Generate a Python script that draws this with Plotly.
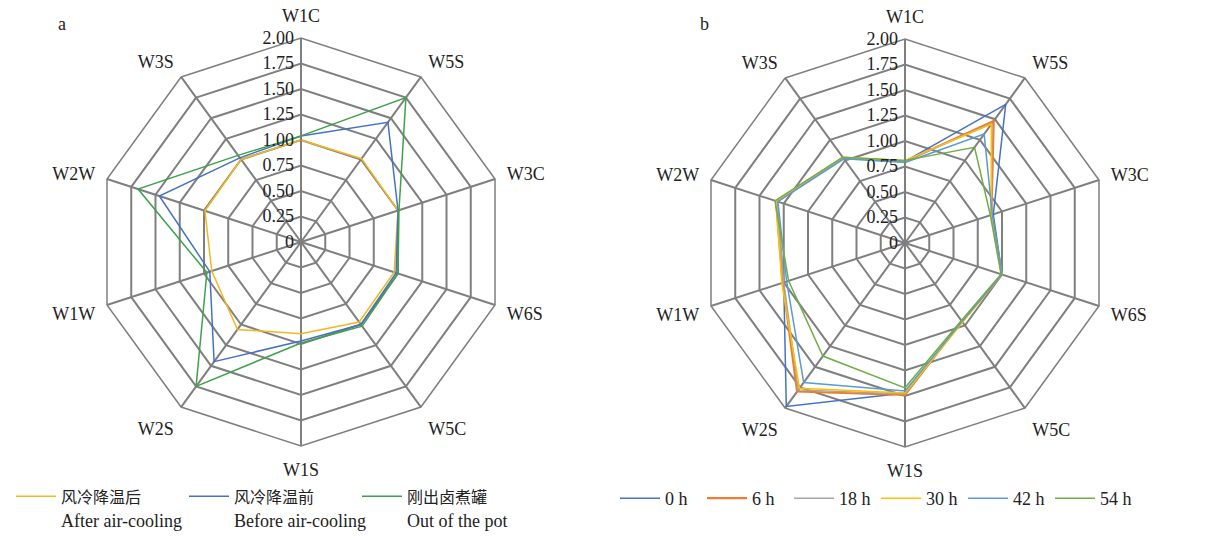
import plotly.graph_objects as go

# Axes (clockwise from top)
axes_labels = ["W1C", "W5S", "W3C", "W6S", "W5C", "W1S", "W2S", "W1W", "W2W", "W3S"]

# Panel a
a_names_cn = ["风冷降温后", "风冷降温前", "刚出卤煮罐"]
a_names_en = ["After air-cooling", "Before air-cooling", "Out of the pot"]
a_after = [1.00, 1.01, 1.00, 0.96, 0.97, 0.90, 1.06, 0.92, 0.99, 1.00]
a_before = [1.04, 1.45, 1.00, 0.98, 1.00, 0.97, 1.45, 0.94, 1.46, 1.02]
a_pot = [1.04, 1.75, 1.01, 1.00, 1.02, 0.99, 1.75, 0.97, 1.68, 1.05]
a_colors = ["#F2B824", "#4472C4", "#3FA14A"]

# Panel b
b_names = ["0 h", "6 h", "18 h", "30 h", "42 h", "54 h"]
b_0h = [0.80, 1.68, 0.91, 1.00, 0.95, 1.47, 1.98, 1.25, 1.32, 1.03]
b_6h = [0.80, 1.48, 0.89, 1.00, 0.95, 1.49, 1.80, 1.26, 1.33, 1.03]
b_18h = [0.80, 1.45, 0.89, 1.00, 0.95, 1.48, 1.78, 1.25, 1.32, 1.03]
b_30h = [0.81, 1.44, 0.89, 1.00, 0.96, 1.47, 1.76, 1.27, 1.33, 1.04]
b_42h = [0.79, 1.32, 0.90, 1.00, 0.95, 1.45, 1.69, 1.22, 1.31, 1.02]
b_54h = [0.81, 1.16, 0.88, 0.99, 0.94, 1.42, 1.37, 1.20, 1.34, 1.04]
b_colors = ["#4472C4", "#ED7D31", "#A5A5A5", "#FFC000", "#5B9BD5", "#70AD47"]
b_widths = [1.5, 2.2, 1.5, 1.5, 1.5, 1.5]

radial_vals = [0, 0.25, 0.5, 0.75, 1.0, 1.25, 1.5, 1.75, 2.0]
radial_text = ["0", "0.25", "0.50", "0.75", "1.00", "1.25", "1.50", "1.75", "2.00"]

FONT = "Liberation Serif, Times New Roman, Noto Sans CJK SC, serif"
GRID = "#7F7F7F"
TXT = "#222222"
FS = 18

fig = go.Figure()

def closed(v):
    return list(v) + [v[0]]

theta_closed = closed(axes_labels)

for cn, en, vals, col in zip(a_names_cn, a_names_en, [a_after, a_before, a_pot], a_colors):
    label = f'<span style="font-size:16px">{cn}</span><br>{en}'
    fig.add_trace(go.Scatterpolar(
        r=closed(vals), theta=theta_closed, mode="lines", name=label,
        line=dict(color=col, width=1.5), subplot="polar", legend="legend"))

for name, vals, col, lw in zip(b_names, [b_0h, b_6h, b_18h, b_30h, b_42h, b_54h], b_colors, b_widths):
    fig.add_trace(go.Scatterpolar(
        r=closed(vals), theta=theta_closed, mode="lines", name=name,
        line=dict(color=col, width=lw), subplot="polar2", legend="legend2"))

def polar_layout(xd, yd):
    return dict(
        domain=dict(x=xd, y=yd),
        gridshape="linear",
        bgcolor="white",
        radialaxis=dict(
            range=[0, 2], tickvals=radial_vals, ticktext=radial_text,
            angle=90, side="counterclockwise", showline=True, linecolor=GRID, linewidth=1.5,
            gridcolor=GRID, gridwidth=1.5, ticks="", tickangle=90,
            tickfont=dict(family=FONT, size=FS, color=TXT),
        ),
        angularaxis=dict(
            categoryarray=axes_labels, categoryorder="array",
            rotation=90, direction="clockwise",
            showline=True, linecolor=GRID, linewidth=1.5,
            gridcolor=GRID, gridwidth=1.5,
            ticks="outside", ticklen=8, tickcolor="rgba(0,0,0,0)",
            tickfont=dict(family=FONT, size=FS, color=TXT),
        ),
    )

W, H = 1205, 540
fig.update_layout(
    width=W, height=H,
    margin=dict(l=0, r=0, t=0, b=0, autoexpand=False),
    paper_bgcolor="white",
    font=dict(family=FONT, size=FS, color=TXT),
    polar=polar_layout([97 / W, 505 / W], [1 - 446 / H, 1 - 38 / H]),
    polar2=polar_layout([701 / W, 1109 / W], [1 - 447 / H, 1 - 39 / H]),
    legend=dict(
        orientation="h", x=11 / W, y=1 - 478 / H, xanchor="left", yanchor="top",
        font=dict(family=FONT, size=FS, color=TXT),
        valign="top", itemwidth=40, entrywidth=118, bgcolor="rgba(0,0,0,0)",
    ),
    legend2=dict(
        orientation="h", x=615 / W, y=1 - 480 / H, xanchor="left", yanchor="top",
        font=dict(family=FONT, size=FS, color=TXT),
        itemwidth=40, entrywidth=32, bgcolor="rgba(0,0,0,0)",
    ),
    showlegend=True,
    annotations=[
        dict(text="a", x=62 / W, y=1 - 24 / H, xref="paper", yref="paper",
             xanchor="center", yanchor="middle",
             showarrow=False, font=dict(family=FONT, size=FS, color=TXT)),
        dict(text="b", x=704 / W, y=1 - 24 / H, xref="paper", yref="paper",
             xanchor="center", yanchor="middle",
             showarrow=False, font=dict(family=FONT, size=FS, color=TXT)),
    ],
)

fig.write_html("out.html", config={"displayModeBar": False},
               post_script="document.body.style.margin='0';document.body.style.overflow='hidden';")
